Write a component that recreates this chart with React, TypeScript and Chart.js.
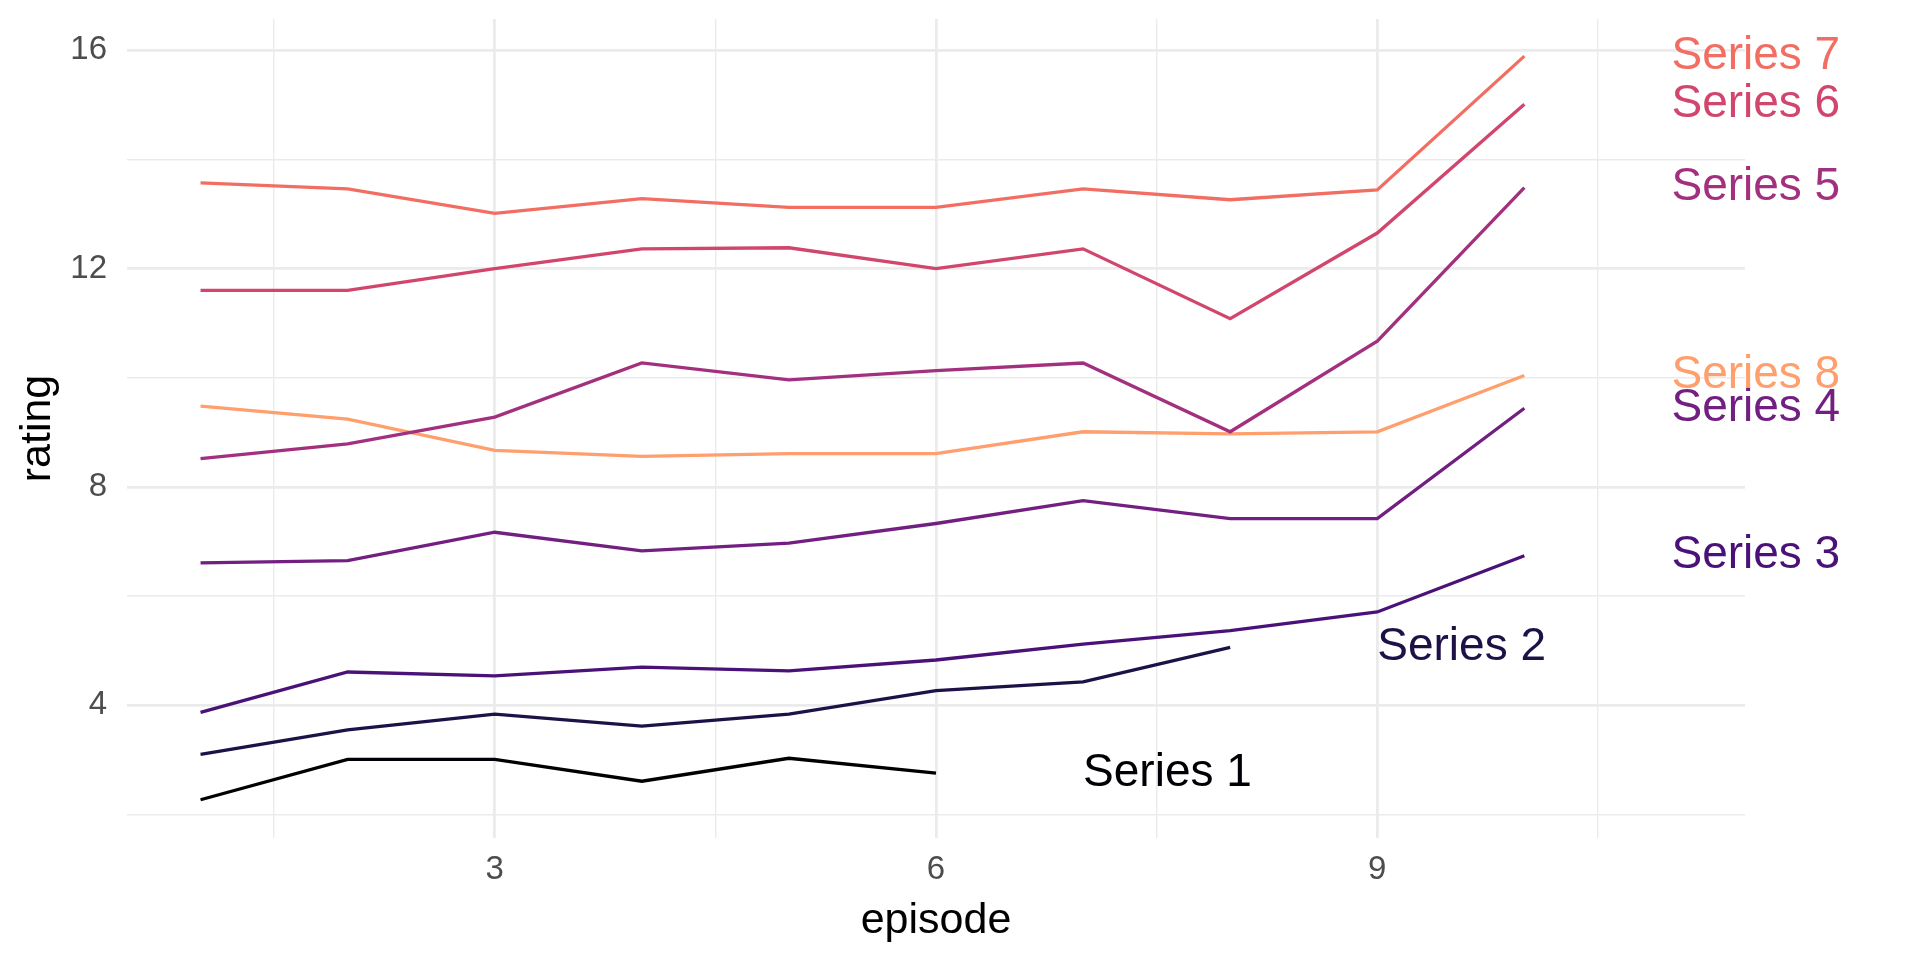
import React, { useEffect, useRef } from "react";
import Chart from "chart.js/auto";

const episodes = [1, 2, 3, 4, 5, 6, 7, 8, 9, 10];
const series1 = [2.27, 3.01, 3.01, 2.61, 3.03, 2.76];
const series2 = [3.1, 3.55, 3.84, 3.62, 3.84, 4.27, 4.43, 5.06];
const series3 = [3.87, 4.61, 4.54, 4.7, 4.63, 4.83, 5.12, 5.37, 5.71, 6.74];
const series4 = [6.61, 6.65, 7.17, 6.83, 6.97, 7.33, 7.75, 7.42, 7.42, 9.44];
const series5 = [8.52, 8.79, 9.28, 10.27, 9.96, 10.13, 10.27, 9.01, 10.67, 13.48];
const series6 = [11.6, 11.6, 12.0, 12.36, 12.38, 12.0, 12.36, 11.08, 12.65, 15.01];
const series7 = [13.57, 13.46, 13.01, 13.28, 13.12, 13.12, 13.46, 13.26, 13.44, 15.89];
const series8 = [9.48, 9.24, 8.67, 8.56, 8.61, 8.61, 9.01, 8.97, 9.01, 10.04];

const seriesValues = [series1, series2, series3, series4, series5, series6, series7, series8];
const seriesNames = ["Series 1", "Series 2", "Series 3", "Series 4", "Series 5", "Series 6", "Series 7", "Series 8"];
const seriesColors = ["#000004", "#1D1147", "#4A1278", "#721F81", "#A3307E", "#D1466C", "#F26E63", "#FE9F6D"];

const yTicks = [2, 4, 6, 8, 10, 12, 14, 16];
const yLabeled = [4, 8, 12, 16];
const xTicks = [1.5, 3, 4.5, 6, 7.5, 9, 10.5];
const xLabeled = [3, 6, 9];

const FONT = "'Liberation Sans', Arial, sans-serif";

const endLabels = {
  id: "endLabels",
  afterDatasetsDraw(chart: any) {
    const { ctx, scales } = chart;
    ctx.save();
    ctx.font = `46px ${FONT}`;
    ctx.textAlign = "left";
    ctx.textBaseline = "middle";
    chart.data.datasets.forEach((ds: any, i: number) => {
      const last = ds.data[ds.data.length - 1];
      const px = scales.x.getPixelForValue(last.x + 1);
      const py = scales.y.getPixelForValue(last.y);
      ctx.fillStyle = seriesColors[i];
      ctx.fillText(seriesNames[i], px, py);
    });
    ctx.restore();
  },
};

export default function App() {
  const ref = useRef<HTMLCanvasElement | null>(null);
  useEffect(() => {
    if (!ref.current) return;
    const chart = new Chart(ref.current, {
      type: "line",
      data: {
        datasets: seriesValues.map((vals, i) => ({
          label: seriesNames[i],
          data: vals.map((v, j) => ({ x: episodes[j], y: v })),
          borderColor: seriesColors[i],
          backgroundColor: seriesColors[i],
          borderWidth: 3.3,
          pointRadius: 0,
          tension: 0,
          fill: false,
        })),
      },
      options: {
        animation: false,
        responsive: true,
        maintainAspectRatio: false,
        devicePixelRatio: 1,
        layout: { padding: { top: 19, right: 175, left: 0, bottom: 0 } },
        plugins: { legend: { display: false }, tooltip: { enabled: false } },
        scales: {
          x: {
            type: "linear",
            min: 0.5,
            max: 11.5,
            afterBuildTicks: (scale: any) => {
              scale.ticks = xTicks.map((v) => ({ value: v }));
            },
            afterFit: (scale: any) => {
              scale.height = 122;
              scale.paddingLeft = 0;
              scale.paddingRight = 0;
              scale.paddingTop = 0;
              scale.paddingBottom = 0;
            },
            border: { display: false },
            grid: {
              color: "#EBEBEB",
              lineWidth: (c: any) => (xLabeled.includes(c.tick?.value) ? 2.8 : 1.4),
              drawTicks: false,
            },
            ticks: {
              autoSkip: false,
              maxRotation: 0,
              padding: 12,
              color: "#4D4D4D",
              font: { family: FONT, size: 33 },
              callback: (v: any) => (xLabeled.includes(Number(v)) ? String(v) : ""),
            },
            title: {
              display: true,
              text: "episode",
              color: "#000000",
              font: { family: FONT, size: 43 },
              padding: { top: 0, bottom: 13 },
            },
          },
          y: {
            type: "linear",
            min: 1.57,
            max: 16.57,
            afterBuildTicks: (scale: any) => {
              scale.ticks = yTicks.map((v) => ({ value: v }));
            },
            afterFit: (scale: any) => {
              scale.width = 127;
              scale.paddingLeft = 0;
              scale.paddingRight = 0;
              scale.paddingTop = 0;
              scale.paddingBottom = 0;
            },
            border: { display: false },
            grid: {
              color: "#EBEBEB",
              lineWidth: (c: any) => (yLabeled.includes(c.tick?.value) ? 2.8 : 1.4),
              drawTicks: false,
            },
            ticks: {
              autoSkip: false,
              padding: 20,
              color: "#4D4D4D",
              font: { family: FONT, size: 33 },
              callback: (v: any) => (yLabeled.includes(Number(v)) ? String(v) : ""),
            },
            title: {
              display: true,
              text: "rating",
              color: "#000000",
              font: { family: FONT, size: 43 },
              padding: { top: 12, bottom: 0 },
            },
          },
        },
      },
      plugins: [endLabels],
    });
    return () => chart.destroy();
  }, []);
  return (
    <div style={{ position: "absolute", left: 0, top: 0, width: 1920, height: 960, background: "#fff" }}>
      <canvas ref={ref} />
    </div>
  );
}
